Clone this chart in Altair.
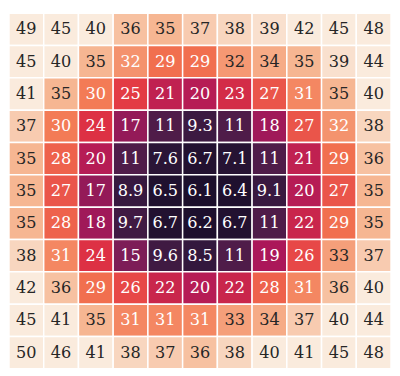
import altair as alt
import pandas as pd

rows = [
    [49, 45, 40, 36, 35, 37, 38, 39, 42, 45, 48],
    [45, 40, 35, 31.9, 29, 29, 32.4, 34, 35, 39, 44],
    [41, 35, 30, 25, 21, 20, 23, 27, 31, 35, 40],
    [37, 30, 24, 17, 11, 9.3, 11, 18, 27, 32, 38],
    [35, 28, 20, 11, 7.6, 6.7, 7.1, 11, 21, 29, 36],
    [35, 27, 17, 8.9, 6.5, 6.1, 6.4, 9.1, 20, 27, 35],
    [35, 28, 18, 9.7, 6.7, 6.2, 6.7, 11, 22, 29, 35],
    [38, 31, 24, 15, 9.6, 8.5, 11, 19, 26, 33, 37],
    [42, 36, 29, 26, 22, 20, 22, 28, 31, 36, 40],
    [45, 41, 35, 31, 31, 31, 33, 34, 37, 40, 44],
    [50, 46, 41, 38, 37, 36, 38, 40, 41, 45, 48],
]
rocket = ["#03051a", "#35193e", "#701f57", "#ad1759", "#e13342",
          "#f37651", "#f6b48f", "#faebdd"]
color_domain = [3.5, 40]

recs = []
for r, row in enumerate(rows):
    for c, v in enumerate(row):
        recs.append({"row": r, "col": c, "value": v})
df = pd.DataFrame(recs)

base = alt.Chart(df).encode(
    x=alt.X("col:O", axis=None),
    y=alt.Y("row:O", axis=None),
)
rect = base.mark_rect(stroke="white", strokeWidth=1.5).encode(
    color=alt.Color("value:Q", legend=None,
                    scale=alt.Scale(range=rocket, domain=color_domain,
                                    clamp=True, interpolate="rgb"))
)
text = base.mark_text(font="DejaVu Serif", fontSize=16.5).encode(
    text=alt.Text("value:Q", format=".2g"),
    color=alt.condition(alt.datum.value < 32.2, alt.value("white"),
                        alt.value("#262626")),
)
chart = (rect + text).properties(width=391, height=364, padding=0).configure_view(strokeWidth=0)
chart.save("out.html", embed_options={"renderer": "svg", "actions": False})
